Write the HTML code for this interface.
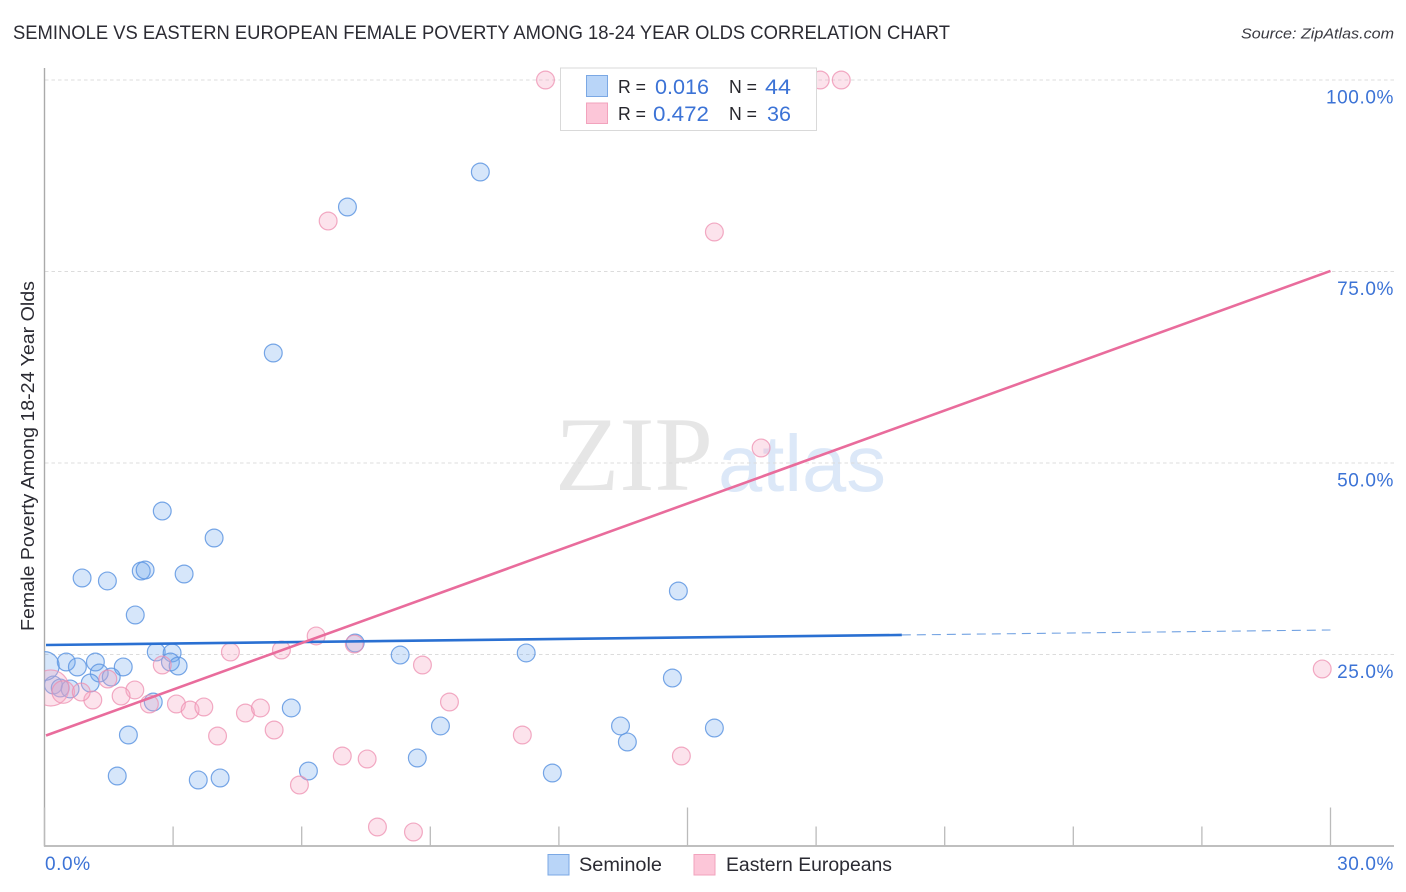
<!DOCTYPE html>
<html lang="en">
<head>
<meta charset="utf-8">
<title>Seminole vs Eastern European Female Poverty Among 18-24 Year Olds Correlation Chart</title>
<style>
html,body{margin:0;padding:0;background:#fff;}
svg{display:block;}
text{font-family:"Liberation Sans",sans-serif;}
</style>
</head>
<body>
<svg id="chart" xmlns="http://www.w3.org/2000/svg" width="1406" height="892" viewBox="0 0 1406 892">
  <defs>
    <clipPath id="plot-clip"><rect x="44.5" y="60" width="1350" height="786"/></clipPath>
  </defs>
  <rect x="0" y="0" width="1406" height="892" fill="#ffffff"/>
  <text x="13" y="39" font-size="19" fill="#2b2b33" textLength="937" lengthAdjust="spacingAndGlyphs">SEMINOLE VS EASTERN EUROPEAN FEMALE POVERTY AMONG 18-24 YEAR OLDS CORRELATION CHART</text>
  <text x="1394" y="38.5" font-size="15" font-style="italic" fill="#3a3a42" text-anchor="end" textLength="153" lengthAdjust="spacingAndGlyphs">Source: ZipAtlas.com</text>
  <text transform="translate(34 631) rotate(-90)" x="0" y="0" font-size="18.5" fill="#2b2b33" textLength="350" lengthAdjust="spacingAndGlyphs">Female Poverty Among 18-24 Year Olds</text>

  <g>
    <text x="555" y="490" font-size="106" fill="#e6e6e6" textLength="158" lengthAdjust="spacingAndGlyphs" style="font-family:'Liberation Serif',serif">ZIP</text>
    <text x="718" y="491" font-size="80" fill="#dce8f8" textLength="168" lengthAdjust="spacingAndGlyphs">atlas</text>
  </g>

  <g id="grid"></g>
  <g id="axes"></g>
  <g id="ylabels"></g>
  <g id="xlabels"></g>
  <g id="points" clip-path="url(#plot-clip)"></g>
  <g id="trends"></g>

  <g>
    <rect x="560.5" y="68" width="256" height="62.5" fill="#ffffff" stroke="#d9d9d9" stroke-width="1"/>
    <rect x="586.5" y="75.5" width="21" height="21" fill="#b9d5f8" stroke="#7ba8e4" stroke-width="1"/>
    <rect x="586.5" y="103" width="21" height="20.5" fill="#fcc6d8" stroke="#f2a3bd" stroke-width="1"/>
    <text x="618" y="93" font-size="18.5" fill="#26262c" textLength="28" lengthAdjust="spacingAndGlyphs">R =</text>
    <text x="655" y="94" font-size="21" fill="#3c73d6" textLength="54" lengthAdjust="spacingAndGlyphs">0.016</text>
    <text x="729" y="93" font-size="18.5" fill="#26262c" textLength="28" lengthAdjust="spacingAndGlyphs">N =</text>
    <text x="765" y="94" font-size="21" fill="#3c73d6" textLength="26" lengthAdjust="spacingAndGlyphs">44</text>
    <text x="618" y="120" font-size="18.5" fill="#26262c" textLength="28" lengthAdjust="spacingAndGlyphs">R =</text>
    <text x="653" y="121" font-size="21" fill="#3c73d6" textLength="56" lengthAdjust="spacingAndGlyphs">0.472</text>
    <text x="729" y="120" font-size="18.5" fill="#26262c" textLength="28" lengthAdjust="spacingAndGlyphs">N =</text>
    <text x="767" y="121" font-size="21" fill="#3c73d6" textLength="24" lengthAdjust="spacingAndGlyphs">36</text>
  </g>

  <g>
    <g>
      <rect x="548" y="854.5" width="21" height="20.5" fill="#b9d5f8" stroke="#7ba8e4" stroke-width="1"/>
      <text x="579" y="871" font-size="19" fill="#2b2b33" textLength="83" lengthAdjust="spacingAndGlyphs">Seminole</text>
    </g>
    <g>
      <rect x="694" y="854.5" width="21" height="20.5" fill="#fcc6d8" stroke="#f2a3bd" stroke-width="1"/>
      <text x="726" y="871" font-size="19" fill="#2b2b33" textLength="166" lengthAdjust="spacingAndGlyphs">Eastern Europeans</text>
    </g>
  </g>
</svg>
<script>
const xTickValues = [0, 3, 6, 9, 12, 15, 18, 21, 24, 27, 30];
const xMajorTicks = [0, 15, 30];
const xLabelValues = [0, 30];
const xLabelText = ['0.0%', '30.0%'];
const yTickValues = [100, 75, 50, 25];
const yLabelText = ['100.0%', '75.0%', '50.0%', '25.0%'];

const seminoleX = [10.16,7.06,5.33,2.74,3.95,0.87,1.46,2.25,2.34,3.25,2.11,14.78,7.24,8.29,11.23,2.6,2.97,2.93,3.11,0.5,1.18,0.76,1.83,1.27,1.55,1.06,14.64,0.2,0.36,0.59,0,2.53,5.75,9.23,13.43,15.62,1.95,13.59,8.69,1.69,11.84,3.58,4.09,6.15];
const seminoleY = [87.99,83.42,64.36,43.73,40.21,34.99,34.6,35.9,36.03,35.51,30.16,33.29,26.5,24.93,25.2,25.33,25.2,24.02,23.5,24.02,24.02,23.37,23.37,22.58,22.06,21.28,21.93,21.02,20.63,20.5,23.5,18.8,18.02,15.67,15.67,15.4,14.49,13.58,11.49,9.14,9.53,8.62,8.88,9.79];
const seminoleWeight = [1,1,1,1,1,1,1,1,1,1,1,1,1,1,1,1,1,1,1,1,1,1,1,1,1,1,1,1,1,1,2.6,1,1,1,1,1,1,1,1,1,1,1,1,1];

const easternX = [11.68,18.09,18.58,6.61,15.62,16.71,6.33,7.22,4.33,5.52,8.81,2.74,29.8,1.47,2.1,1.78,1.12,9.44,2.44,3.07,3.39,3.71,4.68,5.03,5.35,4.03,11.14,6.94,7.52,14.85,5.94,7.76,8.6,0.14,0.43,0.85];
const easternY = [100,100,100,81.59,80.16,51.96,27.42,26.37,25.33,25.59,23.63,23.63,23.11,21.8,20.37,19.58,19.06,18.8,18.54,18.54,17.75,18.15,17.36,18.02,15.14,14.36,14.49,11.75,11.36,11.75,7.96,2.48,1.83,20.63,20.1,20.1];
const easternWeight = [1,1,1,1,1,1,1,1,1,1,1,1,1,1,1,1,1,1,1,1,1,1,1,1,1,1,1,1,1,1,1,1,1,4.1,1.6,1];

const seminoleTrendX = [0, 20];
const seminoleTrendY = [26.24, 27.55];
const seminoleDashX = [20, 30];
const seminoleDashY = [27.55, 28.2];
const easternTrendX = [0, 30];
const easternTrendY = [14.36, 75.07];

const NS = 'http://www.w3.org/2000/svg';
const xPos = v => 44.5 + v * (1286 / 30);
const yPos = v => 846 - v * 7.66;
const radius = w => 8.9 * Math.sqrt(w);

function make(tag, attrs, parent) {
  const el = document.createElementNS(NS, tag);
  for (const k in attrs) el.setAttribute(k, attrs[k]);
  parent.appendChild(el);
  return el;
}

const grid = document.getElementById('grid');
yTickValues.forEach(v => {
  const el = make('line', {x1: 45, x2: 1394, y1: yPos(v), y2: yPos(v), stroke: '#dcdcdc', 'stroke-width': 1, 'stroke-dasharray': '3.5 3'}, grid);
  
  
});

const axes = document.getElementById('axes');
const yAxis = make('line', {x1: 44.5, x2: 44.5, y1: 68, y2: 846.5, stroke: '#aaaaaa', 'stroke-width': 1.4}, axes);


const xAxis = make('line', {x1: 44, x2: 1394, y1: 846, y2: 846, stroke: '#aaaaaa', 'stroke-width': 1.4}, axes);


xTickValues.forEach(v => {
  const top = xMajorTicks.includes(v) ? 807.5 : 826.5;
  const el = make('line', {x1: xPos(v), x2: xPos(v), y1: top, y2: 846, stroke: '#bbbbbb', 'stroke-width': 1.3}, axes);
  
  
});

const ylabels = document.getElementById('ylabels');
yTickValues.forEach((v, i) => {
  const el = make('text', {x: 1394, y: yPos(v) + 23.5, 'font-size': 19, fill: '#3c73d6', 'text-anchor': 'end', 'letter-spacing': '0.6'}, ylabels);
  
  
  el.textContent = yLabelText[i];
});

const xlabels = document.getElementById('xlabels');
xLabelValues.forEach((v, i) => {
  const last = i === xLabelValues.length - 1;
  const el = make('text', {x: last ? 1394 : xPos(v) + 0.5, y: 870, 'font-size': 19, fill: '#3c73d6', 'text-anchor': last ? 'end' : 'start', 'letter-spacing': '0.6'}, xlabels);
  
  
  el.textContent = xLabelText[i];
});

const points = document.getElementById('points');
seminoleX.forEach((v, i) => {
  const el = make('circle', {cx: xPos(v) + 0.3, cy: yPos(seminoleY[i]), r: radius(seminoleWeight[i]), fill: '#6aa5ee', 'fill-opacity': 0.28, stroke: '#5f97e2', 'stroke-opacity': 0.85, 'stroke-width': 1.2}, points);
  
  
});
easternX.forEach((v, i) => {
  const el = make('circle', {cx: xPos(v) + 0.3, cy: yPos(easternY[i]), r: radius(easternWeight[i]), fill: '#f7a9c4', 'fill-opacity': 0.32, stroke: '#ee8fb0', 'stroke-opacity': 0.75, 'stroke-width': 1.2}, points);
  
  
});

const trends = document.getElementById('trends');
const semSolid = make('line', {x1: xPos(seminoleTrendX[0]) + 1.5, y1: yPos(seminoleTrendY[0]), x2: xPos(seminoleTrendX[1]), y2: yPos(seminoleTrendY[1]), stroke: '#2a70d2', 'stroke-width': 2.6}, trends);


const semDash = make('line', {x1: xPos(seminoleDashX[0]), y1: yPos(seminoleDashY[0]), x2: xPos(seminoleDashX[1]), y2: yPos(seminoleDashY[1]), stroke: '#4f8bdb', 'stroke-width': 1.1, 'stroke-opacity': 0.8, 'stroke-dasharray': '9 6'}, trends);


const eastTrend = make('line', {x1: xPos(easternTrendX[0]) + 1.5, y1: yPos(easternTrendY[0]) - 0.5, x2: xPos(easternTrendX[1]), y2: yPos(easternTrendY[1]), stroke: '#e96c9c', 'stroke-width': 2.6}, trends);


</script>
</body>
</html>
